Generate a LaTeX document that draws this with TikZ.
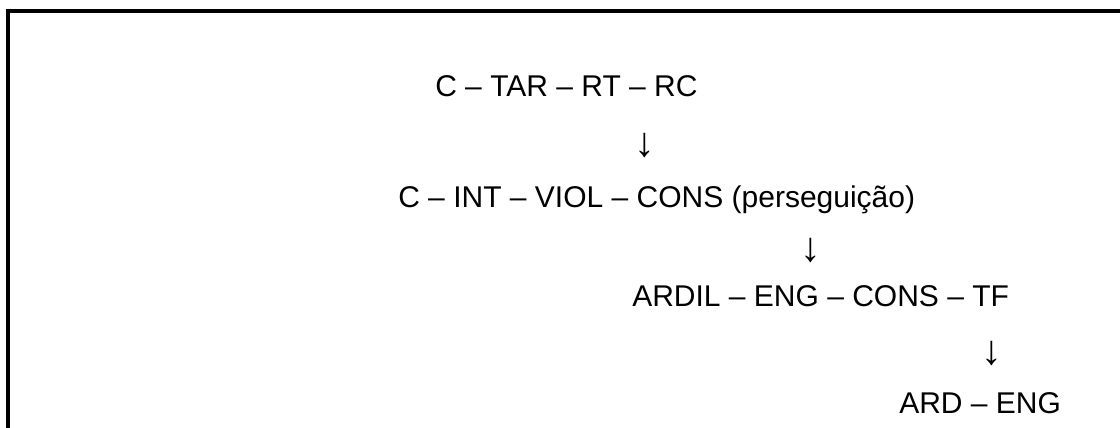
\documentclass[tikz,border=0pt]{standalone}
\usepackage{fontspec}
\setmainfont{Liberation Sans}
\usepackage{tikz}

\begin{document}
\begin{tikzpicture}[x=0.75pt,y=-0.75pt,
				   every node/.style={inner sep=0pt, font=\fontsize{22.5}{27}\selectfont},
				   chain/.style={anchor=base west},
				   down/.style={anchor=center, font=\fontsize{31}{36}\selectfont}]

\useasboundingbox (0,0) rectangle (1120,428);
\draw[line width=3pt] (8,440) -- (8,11) -- (1130,11);

\node[chain] (ctar) at (435,97) {C – TAR – RT – RC};
\node[down] (a1) at (645,145) {↓};
\node[chain] (cint) at (398,207) {C – INT – VIOL – CONS (perseguição)};
\node[down] (a2) at (811,250) {↓};
\node[chain] (ardil) at (632,306) {ARDIL – ENG – CONS – TF};
\node[down] (a3) at (992,353) {↓};
\node[chain] (ard) at (899,413) {ARD – ENG};

\end{tikzpicture}
\end{document}
